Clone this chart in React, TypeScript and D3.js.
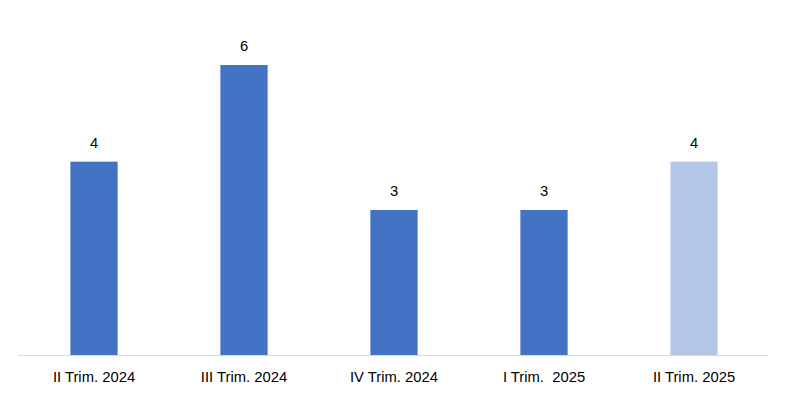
import React from "react";
import * as d3 from "d3";

const categories = ["II Trim. 2024", "III Trim. 2024", "IV Trim. 2024", "I Trim.  2025", "II Trim. 2025"];
const values = [4, 6, 3, 3, 4];
const highlight = [false, false, false, false, true];

const W = 785;
const H = 395;

export default function App() {
  const x = d3.scaleBand<string>().domain(categories).range([19, 769]).paddingInner(0.685).paddingOuter(0.3425);
  const y = d3.scaleLinear().domain([0, 6]).range([355, 65]);
  const font = "'Liberation Sans', Arial, sans-serif";
  return (
    <svg width={W} height={H} style={{ position: "absolute", left: 0, top: 0, background: "#fff" }}>
      {categories.map((c, i) => (
        <g key={c}>
          <rect
            x={x(c)!}
            y={y(values[i])}
            width={x.bandwidth()}
            height={y(0) - y(values[i])}
            fill={highlight[i] ? "#B4C7E7" : "#4472C4"}
          />
          <text
            x={x(c)! + x.bandwidth() / 2}
            y={y(values[i]) - 14}
            textAnchor="middle"
            fontFamily={font}
            fontSize={14.8}
            fill="#000"
          >
            {values[i]}
          </text>
          <text
            x={x(c)! + x.bandwidth() / 2}
            y={382}
            textAnchor="middle"
            fontFamily={font}
            fontSize={14.8}
            fill="#000"
            style={{ whiteSpace: "pre" }}
          >
            {c}
          </text>
        </g>
      ))}
      <line x1={18} x2={768} y1={355.5} y2={355.5} stroke="#d9d9d9" strokeWidth={1} />
    </svg>
  );
}
